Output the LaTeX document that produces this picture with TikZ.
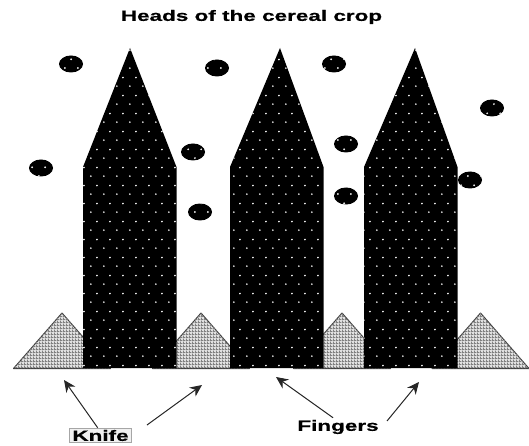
\documentclass[tikz,border=0pt]{standalone}
\usepackage{fontspec}
\newfontfamily\labelfont[FakeStretch=1.5,FakeBold=0.6]{Liberation Sans}
\usetikzlibrary{arrows.meta,patterns}

\pgfdeclarepatternformonly{graindots}{\pgfqpoint{-2pt}{-2pt}}{\pgfqpoint{11pt}{16pt}}{\pgfqpoint{13pt}{18pt}}{
  \pgfpathcircle{\pgfqpoint{0pt}{0pt}}{1pt}
  \pgfpathcircle{\pgfqpoint{6.5pt}{9pt}}{1pt}
  \pgfusepath{fill}
}
\pgfdeclarepatternformonly{fingermesh}{\pgfqpoint{0pt}{0pt}}{\pgfqpoint{3pt}{3pt}}{\pgfqpoint{3pt}{3pt}}{
  \pgfpathrectangle{\pgfqpoint{0pt}{0pt}}{\pgfqpoint{3pt}{1pt}}
  \pgfpathrectangle{\pgfqpoint{0pt}{0pt}}{\pgfqpoint{1pt}{3pt}}
  \pgfusepath{fill}
}
\tikzset{
  grainfill/.style={fill=black, postaction={pattern=graindots, pattern color=white}},
  fingerfill/.style={draw=black!75, line width=1pt, line join=round, fill=black!12, postaction={pattern=fingermesh, pattern color=black!50}},
  pointer/.style={-{Stealth[length=12pt,width=11pt]}, black!85, line width=1pt},
  caption/.style={font=\labelfont\bfseries\fontsize{15}{18}\selectfont, inner sep=2pt}
}

\begin{document}
\begin{tikzpicture}[x=1pt,y=-1pt]
\useasboundingbox (0,0) rectangle (529,446);
\node[caption] (title) at (251.5,17) {Heads of the cereal crop};
% fingers
\foreach \tipx in {62,201,342,480.5}
  \draw[fingerfill] (\tipx,313) -- ({\tipx-48.5},368.5) -- ({\tipx+48.5},368.5) -- cycle;
% crop heads
\foreach \lft/\tipx in {83/130,230/280,364/415}
  \path[grainfill] (\lft,368) -- (\lft,167) -- (\tipx,48) -- ({\lft+93.5},167) -- ({\lft+93.5},368) -- cycle;
% loose grains
\foreach \gx/\gy in {71/64,217/68,41/168,193/152,200/212,334/64,346/144,346/196,470/180,492/108}
  \path[grainfill] (\gx,\gy) ellipse [x radius=12, y radius=8.5];
% labels
\node[caption, draw=black!35, line width=1.5pt, fill=black!6, inner xsep=3pt, inner ysep=1.5pt] (knife) at (100.5,435.5) {Knife};
\node[caption] (fingers) at (338,427) {Fingers};
\coordinate (knifetipa) at (64,380);
\coordinate (knifetipb) at (202,385);
\coordinate (knifetail) at (147,425);
\coordinate (fingertipa) at (276,377);
\coordinate (fingertipb) at (419,382);
\coordinate (fingertail) at (387,421);
\draw[pointer] (knife.110) -- (knifetipa);
\draw[pointer] (knifetail) -- (knifetipb);
\draw[pointer] (fingers.118) -- (fingertipa);
\draw[pointer] (fingertail) -- (fingertipb);
\end{tikzpicture}
\end{document}
